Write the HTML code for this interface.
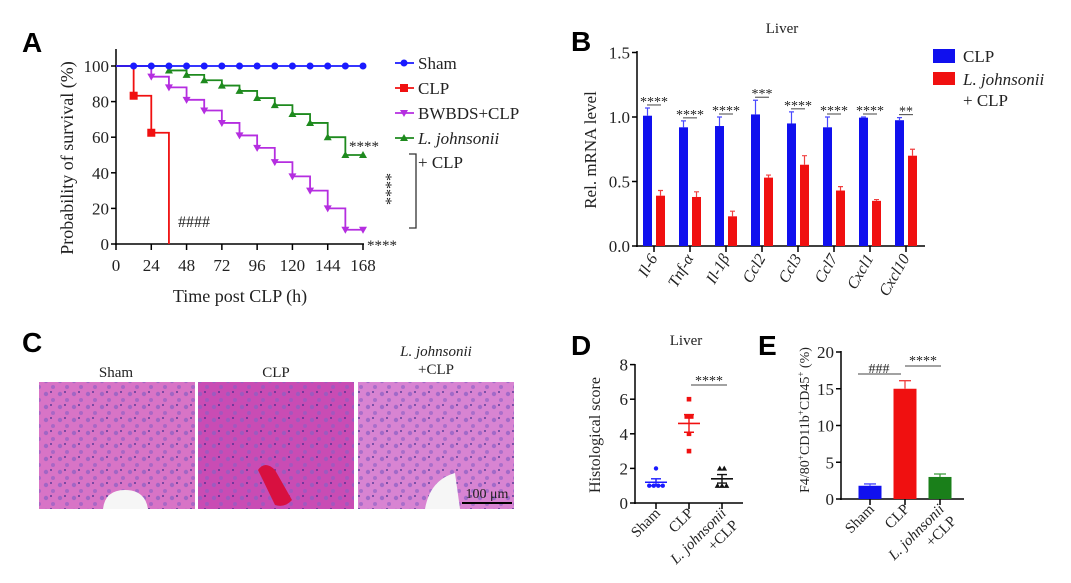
<!DOCTYPE html>
<html><head><meta charset="utf-8"><style>
body{margin:0;background:#fff}
svg{display:block}
text{font-family:"Liberation Serif",serif;fill:#222}
.let{font-family:"Liberation Sans",sans-serif;font-weight:bold;fill:#000}
</style></head><body>
<svg id="fig" width="1071" height="583" viewBox="0 0 1071 583" xmlns="http://www.w3.org/2000/svg">
<defs>
<pattern id="nuc" width="14" height="13" patternUnits="userSpaceOnUse">
<circle cx="4" cy="4" r="2.2" fill="#8a5fc4" opacity="0.7"/><circle cx="11" cy="10" r="2" fill="#8a5fc4" opacity="0.6"/><circle cx="9" cy="2" r="0.9" fill="#3a2a8a"/>
</pattern>
</defs>
<g id="A"></g>
<g id="B"></g>
<g id="C"></g>
<g id="D"></g>
<g id="E"></g>
</svg>
<script>
// Panel A data
const survTimes=[0,12,24,36,48,60,72,84,96,108,120,132,144,156,168];
const shamSurv=[100,100,100,100,100,100,100,100,100,100,100,100,100,100,100];
const clpTimes=[0,12,24,36];
const clpSurv=[100,83.3,62.5,0];
const bwbdsSurv=[100,100,94,88,81,75,68,61,54,46,38,30,20,8,8];
const ljSurv=[100,100,100,97.5,95,92,89,86,82,78,73,68,60,50,50];
const aTicksX=[0,24,48,72,96,120,144,168];
const aTicksY=[0,20,40,60,80,100];
// Panel B data
const genes=["Il-6","Tnf-α","Il-1β","Ccl2","Ccl3","Ccl7","Cxcl1","Cxcl10"];
const clpVals=[1.01,0.92,0.93,1.02,0.95,0.92,0.995,0.975];
const clpErr=[0.06,0.05,0.07,0.11,0.09,0.08,0.005,0.02];
const ljVals=[0.39,0.38,0.23,0.53,0.63,0.43,0.35,0.70];
const ljErr=[0.04,0.04,0.04,0.02,0.07,0.03,0.01,0.05];
const bStars=["****","****","****","***","****","****","****","**"];
const bTicksY=[0,0.5,1.0,1.5];
// Panel D data
const dGroups=["Sham","CLP","L. johnsonii +CLP"];
const dSham=[2,1,1,1,1];
const dClp=[6,5,5,4,3];
const dLj=[2,2,1,1,1];
const dTicksY=[0,2,4,6,8];
// Panel E data
const eVals=[1.8,15,3.0];
const eErr=[0.25,1.1,0.4];
const eTicksY=[0,5,10,15,20];

const NS="http://www.w3.org/2000/svg";
function mk(p,tag,at,txt){const e=document.createElementNS(NS,tag);for(const k in at)e.setAttribute(k,at[k]);if(txt!==undefined)e.textContent=txt;p.appendChild(e);return e;}

// ---------- Panel A ----------
(function(){
const g=document.getElementById('A');
const X=t=>116+t*247/168, Y=v=>244-v*1.78;
let e;
e=mk(g,'text',{x:22,y:52,'font-size':28,class:'let'},'A');


mk(g,'line',{x1:116,y1:49,x2:116,y2:245,stroke:'#000','stroke-width':1.5});
mk(g,'line',{x1:115,y1:244,x2:364,y2:244,stroke:'#000','stroke-width':1.5});
aTicksY.forEach(v=>{mk(g,'line',{x1:111,y1:Y(v),x2:116,y2:Y(v),stroke:'#000','stroke-width':1.5});
 e=mk(g,'text',{x:109,y:Y(v)+6,'font-size':17,'text-anchor':'end'},v);
 
 });
aTicksX.forEach(t=>{mk(g,'line',{x1:X(t),y1:244,x2:X(t),y2:250,stroke:'#000','stroke-width':1.5});
 e=mk(g,'text',{x:X(t),y:271,'font-size':17,'text-anchor':'middle'},t);
 
 });
e=mk(g,'text',{x:240,y:302,'font-size':18,'text-anchor':'middle'},'Time post CLP (h)');


e=mk(g,'text',{x:0,y:0,'font-size':18,'text-anchor':'middle',transform:'translate(73,158) rotate(-90)'},'Probability of survival (%)');


function step(times,vals,col){let d=`M${X(times[0])},${Y(vals[0])}`;for(let i=1;i<times.length;i++){d+=`L${X(times[i])},${Y(vals[i-1])}L${X(times[i])},${Y(vals[i])}`;}return mk(g,'path',{d,fill:'none',stroke:col,'stroke-width':1.8});}
function marker(type,x,y,col){
 if(type==='c')return mk(g,'circle',{cx:x,cy:y,r:3.5,fill:col});
 if(type==='s')return mk(g,'rect',{x:x-4,y:y-4,width:8,height:8,fill:col});
 if(type==='v')return mk(g,'path',{d:`M${x-4},${y-3}L${x+4},${y-3}L${x},${y+4}Z`,fill:col});
 return mk(g,'path',{d:`M${x-4},${y+3}L${x+4},${y+3}L${x},${y-4}Z`,fill:col});}
e=step(survTimes,ljSurv,'#1e8a1e');
e=step(survTimes,bwbdsSurv,'#b52ee0');
e=step(clpTimes,clpSurv,'#f01010');
e=step(survTimes,shamSurv,'#1a1aff');
survTimes.forEach((t,i)=>{if(t>=36){e=marker('t',X(t),Y(ljSurv[i]),'#1e8a1e');}});
survTimes.forEach((t,i)=>{if(t>=24){e=marker('v',X(t),Y(bwbdsSurv[i]),'#b52ee0');}});
clpTimes.forEach((t,i)=>{if(t>0&&clpSurv[i]>0){e=marker('s',X(t),Y(clpSurv[i]),'#f01010');}});
survTimes.forEach((t,i)=>{if(t>0){e=marker('c',X(t),Y(shamSurv[i]),'#1a1aff');}});
const leg=[['Sham','#1a1aff','c',63],['CLP','#f01010','s',88],['BWBDS+CLP','#b52ee0','v',113],['L. johnsonii','#1e8a1e','t',138]];
leg.forEach(l=>{mk(g,'line',{x1:395,y1:l[3],x2:414,y2:l[3],stroke:l[1],'stroke-width':1.8});marker(l[2],404,l[3],l[1]);
 e=mk(g,'text',{x:418,y:l[3]+6,'font-size':17,'font-style':l[0].startsWith('L.')?'italic':'normal'},l[0]);
 
 });
e=mk(g,'text',{x:418,y:168,'font-size':17},'+ CLP');


mk(g,'path',{d:'M409,154L416,154L416,228L409,228',fill:'none',stroke:'#333','stroke-width':1.3});
e=mk(g,'text',{x:0,y:0,'font-size':16,fill:'#555',transform:'translate(381,173) rotate(90)'},'****');

e=mk(g,'text',{x:349,y:151,'font-size':15,fill:'#555'},'****');
e=mk(g,'text',{x:367,y:250,'font-size':15,fill:'#555'},'****');
e=mk(g,'text',{x:178,y:227,'font-size':16,fill:'#555'},'####');
})();

// ---------- Panel B ----------
(function(){
const g=document.getElementById('B');
const Y=v=>246-v*129, C=i=>654+i*36;
let e;
e=mk(g,'text',{x:571,y:51,'font-size':28,class:'let'},'B');
e=mk(g,'text',{x:782,y:33,'font-size':15,'text-anchor':'middle'},'Liver');
mk(g,'line',{x1:637,y1:51,x2:637,y2:247,stroke:'#000','stroke-width':1.5});
mk(g,'line',{x1:636,y1:246,x2:925,y2:246,stroke:'#000','stroke-width':1.5});
bTicksY.forEach(v=>{mk(g,'line',{x1:632,y1:Y(v),x2:637,y2:Y(v),stroke:'#000','stroke-width':1.5});
 e=mk(g,'text',{x:630,y:Y(v)+6,'font-size':17,'text-anchor':'end'},v.toFixed(1));});
e=mk(g,'text',{x:0,y:0,'font-size':17,'text-anchor':'middle',transform:'translate(596,150) rotate(-90)'},'Rel. mRNA level');
genes.forEach((gn,i)=>{const c=C(i);
 mk(g,'line',{x1:c,y1:246,x2:c,y2:252,stroke:'#000','stroke-width':1.5});
 e=mk(g,'rect',{x:c-11,y:Y(clpVals[i]),width:9,height:246-Y(clpVals[i]),fill:'#1010ee'});
 mk(g,'path',{d:`M${c-6.5},${Y(clpVals[i])}V${Y(clpVals[i]+clpErr[i])}M${c-9},${Y(clpVals[i]+clpErr[i])}H${c-4}`,stroke:'#4a4aff','stroke-width':1.2,fill:'none'});
 e=mk(g,'rect',{x:c+2,y:Y(ljVals[i]),width:9,height:246-Y(ljVals[i]),fill:'#f01010'});
 mk(g,'path',{d:`M${c+6.5},${Y(ljVals[i])}V${Y(ljVals[i]+ljErr[i])}M${c+4},${Y(ljVals[i]+ljErr[i])}H${c+9}`,stroke:'#f04040','stroke-width':1.2,fill:'none'});
 const top=Y(clpVals[i]+clpErr[i])-3;
 mk(g,'line',{x1:c-7,y1:top,x2:c+7,y2:top,stroke:'#444','stroke-width':1});
 e=mk(g,'text',{x:c,y:top+1,'font-size':14,'text-anchor':'middle',fill:'#555'},bStars[i]);
 e=mk(g,'text',{x:0,y:0,'font-size':16,'font-style':'italic','text-anchor':'end',transform:`translate(${c+4},258) rotate(-60)`},gn);
});
e=mk(g,'rect',{x:933,y:49,width:22,height:14,fill:'#1010ee'});
e=mk(g,'text',{x:963,y:62,'font-size':17},'CLP');
e=mk(g,'rect',{x:933,y:72,width:22,height:13,fill:'#f01010'});
e=mk(g,'text',{x:963,y:85,'font-size':17,'font-style':'italic'},'L. johnsonii');
e=mk(g,'text',{x:963,y:106,'font-size':17},'+ CLP');
})();

// ---------- Panel C ----------
(function(){
const g=document.getElementById('C');
let e;
e=mk(g,'text',{x:22,y:352,'font-size':28,class:'let'},'C');
const imgs=[[39,'#d874c6','Sham'],[198,'#c94cb4','CLP'],[358,'#d884d2','L. johnsonii +CLP']];
imgs.forEach((m,i)=>{
 const r=mk(g,'g',{});
 
 
 mk(r,'rect',{x:m[0],y:382,width:156,height:127,fill:m[1]});
 mk(r,'rect',{x:m[0],y:382,width:156,height:127,fill:'url(#nuc)'});
});
mk(g,'path',{d:'M103,509Q105,490 125,490Q145,490 148,509Z',fill:'#f6f6f6'});
mk(g,'path',{d:'M258,470Q265,460 275,470L292,500Q285,508 275,505Z',fill:'#d81040'});
mk(g,'path',{d:'M425,509Q430,480 455,473L460,509Z',fill:'#f6f6f6'});
mk(g,'line',{x1:462,y1:503,x2:512,y2:503,stroke:'#000','stroke-width':2});
e=mk(g,'text',{x:487,y:498,'font-size':14,'text-anchor':'middle'},'100 μm');
e=mk(g,'text',{x:116,y:377,'font-size':15,'text-anchor':'middle'},'Sham');
e=mk(g,'text',{x:276,y:377,'font-size':15,'text-anchor':'middle'},'CLP');
e=mk(g,'text',{x:436,y:356,'font-size':15,'text-anchor':'middle','font-style':'italic'},'L. johnsonii');
e=mk(g,'text',{x:436,y:374,'font-size':15,'text-anchor':'middle'},'+CLP');
})();

// ---------- Panel D ----------
(function(){
const g=document.getElementById('D');
const Y=v=>503-v*17.3, C=i=>656+i*33;
let e;
e=mk(g,'text',{x:571,y:355,'font-size':28,class:'let'},'D');
e=mk(g,'text',{x:686,y:345,'font-size':15,'text-anchor':'middle'},'Liver');
mk(g,'line',{x1:635,y1:364,x2:635,y2:504,stroke:'#000','stroke-width':1.5});
mk(g,'line',{x1:634,y1:503,x2:743,y2:503,stroke:'#000','stroke-width':1.5});
dTicksY.forEach(v=>{mk(g,'line',{x1:630,y1:Y(v),x2:635,y2:Y(v),stroke:'#000','stroke-width':1.5});
 e=mk(g,'text',{x:628,y:Y(v)+6,'font-size':17,'text-anchor':'end'},v);});
e=mk(g,'text',{x:0,y:0,'font-size':16,'text-anchor':'middle',transform:'translate(600,435) rotate(-90)'},'Histological score');
const sets=[[dSham,'#1a1aff','c'],[dClp,'#f01010','s'],[dLj,'#111','t']];
sets.forEach((s,i)=>{const c=C(i);const vals=s[0];
 mk(g,'line',{x1:c,y1:503,x2:c,y2:509,stroke:'#000','stroke-width':1.5});
 const mean=vals.reduce((a,b)=>a+b,0)/vals.length;
 const sd=Math.sqrt(vals.reduce((a,b)=>a+(b-mean)**2,0)/(vals.length-1));const sem=sd/Math.sqrt(vals.length);
 mk(g,'line',{x1:c-11,y1:Y(mean),x2:c+11,y2:Y(mean),stroke:s[1],'stroke-width':1.6});
 mk(g,'path',{d:`M${c-5},${Y(mean+sem)}H${c+5}M${c},${Y(mean+sem)}V${Y(mean-sem)}M${c-5},${Y(mean-sem)}H${c+5}`,stroke:s[1],'stroke-width':1.4,fill:'none'});
 const cnt={};
 vals.forEach(v=>{cnt[v]=(cnt[v]||0)+1;});
 const seen={};
 vals.forEach(v=>{const n=cnt[v];const k=seen[v]=(seen[v]||0)+1;const x=c+(k-(n+1)/2)*4.5;const y=Y(v);let m;
  if(s[2]==='c')m=mk(g,'circle',{cx:x,cy:y,r:2.2,fill:s[1]});
  else if(s[2]==='s')m=mk(g,'rect',{x:x-2.3,y:y-2.3,width:4.6,height:4.6,fill:s[1]});
  else m=mk(g,'path',{d:`M${x-2.8},${y+2.2}L${x+2.8},${y+2.2}L${x},${y-2.8}Z`,fill:s[1]});
  
  });
});
mk(g,'line',{x1:691,y1:385,x2:727,y2:385,stroke:'#444','stroke-width':1});
e=mk(g,'text',{x:709,y:385,'font-size':14,'text-anchor':'middle',fill:'#555'},'****');
const labs=[['Sham',''],['CLP',''],['L. johnsonii','+CLP']];
labs.forEach((l,i)=>{const c=C(i);
 const t=mk(g,'text',{x:0,y:0,'font-size':15,'text-anchor':'end',transform:`translate(${c+5},514) rotate(-45)`});
 
 
 if(l[1]){mk(t,'tspan',{'font-style':'italic',x:0,dy:0},l[0]);mk(t,'tspan',{x:0,dy:17},l[1]);}else t.textContent=l[0];});
})();

// ---------- Panel E ----------
(function(){
const g=document.getElementById('E');
const Y=v=>499-v*7.35, C=i=>870+i*35;
const cols=['#1010ee','#f01010','#1a7f1a'], ecols=['#4a4aff','#f04040','#3a9a3a'];
let e;
e=mk(g,'text',{x:758,y:355,'font-size':28,class:'let'},'E');
mk(g,'line',{x1:841,y1:351,x2:841,y2:500,stroke:'#000','stroke-width':1.5});
mk(g,'line',{x1:840,y1:499,x2:964,y2:499,stroke:'#000','stroke-width':1.5});
eTicksY.forEach(v=>{mk(g,'line',{x1:836,y1:Y(v),x2:841,y2:Y(v),stroke:'#000','stroke-width':1.5});
 e=mk(g,'text',{x:834,y:Y(v)+6,'font-size':17,'text-anchor':'end'},v);});
e=mk(g,'text',{x:0,y:0,'font-size':14,'text-anchor':'middle',transform:'translate(809,420) rotate(-90)'});

e.innerHTML='F4/80<tspan dy="-5" font-size="9">+</tspan><tspan dy="5">CD11b</tspan><tspan dy="-5" font-size="9">+</tspan><tspan dy="5">CD45</tspan><tspan dy="-5" font-size="9">+</tspan><tspan dy="5"> (%)</tspan>';
const labs=[['Sham',''],['CLP',''],['L. johnsonii','+CLP']];
eVals.forEach((v,i)=>{const c=C(i);
 mk(g,'line',{x1:c,y1:499,x2:c,y2:505,stroke:'#000','stroke-width':1.5});
 const b=mk(g,'rect',{x:c-11.5,y:Y(v),width:23,height:499-Y(v),fill:cols[i]});
 
 
 mk(g,'path',{d:`M${c},${Y(v)}V${Y(v+eErr[i])}M${c-6},${Y(v+eErr[i])}H${c+6}`,stroke:ecols[i],'stroke-width':1.3,fill:'none'});
 const t=mk(g,'text',{x:0,y:0,'font-size':15,'text-anchor':'end',transform:`translate(${c+5},510) rotate(-45)`});
 
 
 if(labs[i][1]){mk(t,'tspan',{'font-style':'italic',x:0,dy:0},labs[i][0]);mk(t,'tspan',{x:0,dy:17},labs[i][1]);}else t.textContent=labs[i][0];
});
mk(g,'line',{x1:858,y1:374,x2:901,y2:374,stroke:'#444','stroke-width':1});
e=mk(g,'text',{x:879,y:373,'font-size':14,'text-anchor':'middle',fill:'#555'},'###');
mk(g,'line',{x1:905,y1:366,x2:941,y2:366,stroke:'#444','stroke-width':1});
e=mk(g,'text',{x:923,y:365,'font-size':14,'text-anchor':'middle',fill:'#555'},'****');
})();
</script>
</body></html>
